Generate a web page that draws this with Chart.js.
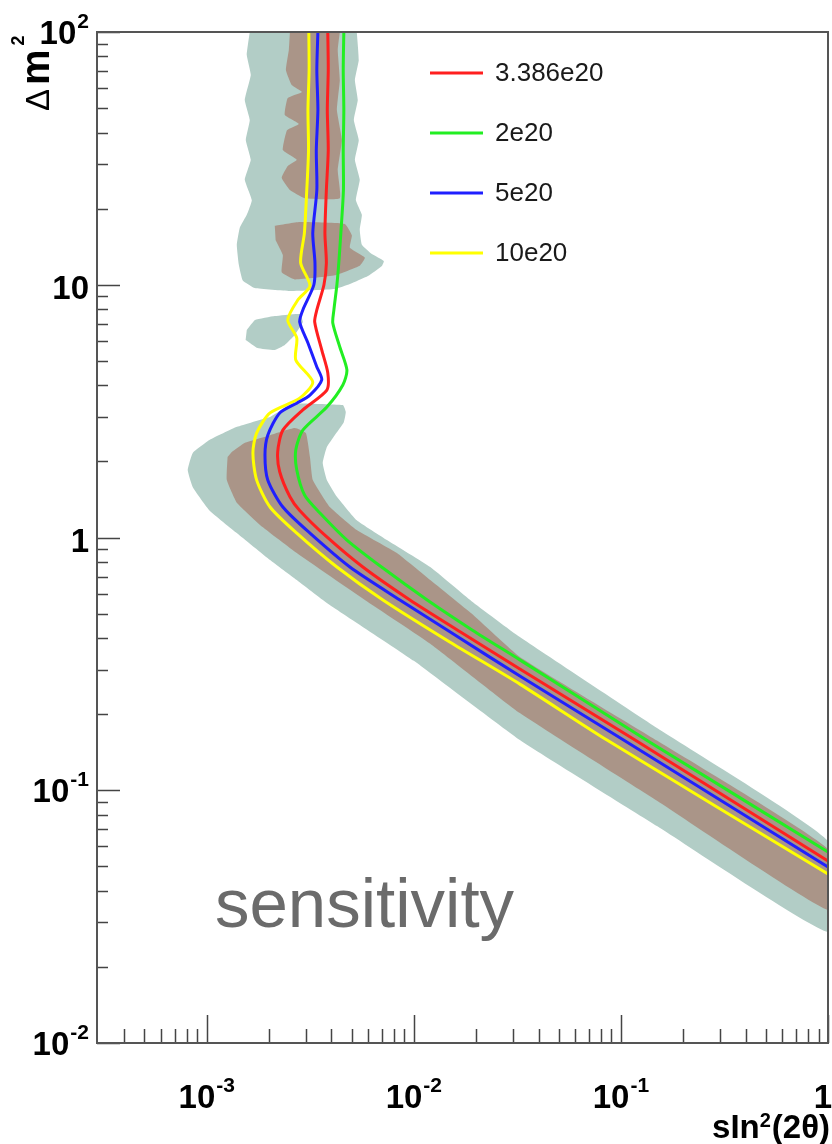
<!DOCTYPE html>
<html>
<head>
<meta charset="utf-8">
<title>sensitivity</title>
<script src="https://cdn.jsdelivr.net/npm/chart.js@4.4.1/dist/chart.umd.min.js"></script>
<style>
  html, body { margin: 0; padding: 0; background: #fff; }
  canvas { display: block; }
</style>
</head>
<body>
<canvas id="sensChart" width="832" height="1144"></canvas>
<script>
// x: sin^2(2θ), y: Δm^2 (eV^2)
const seriesNames = ["3.386e20", "2e20", "5e20", "10e20"];
const seriesColors = ["#ff1f1f", "#22ee22", "#1f1fff", "#ffff00"];

// 3.386e20 POT (red)
const line3386e20 = [
  [3.84e-3, 100], [3.86e-3, 70.7], [3.82e-3, 49.1], [3.86e-3, 34.1], [3.78e-3, 23.7],
  [3.72e-3, 16.0], [3.78e-3, 12.2], [3.68e-3, 10.0], [3.40e-3, 7.95], [3.32e-3, 7.12],
  [3.59e-3, 5.52], [3.84e-3, 4.48], [3.80e-3, 3.83], [2.91e-3, 3.20], [2.33e-3, 2.66],
  [2.20e-3, 2.18], [2.25e-3, 1.82], [2.52e-3, 1.45], [2.81e-3, 1.28], [3.80e-3, 1.005],
  [5.67e-3, 0.764], [9.57e-3, 0.566], [1.71e-2, 0.419], [3.25e-2, 0.302], [0.117, 0.158],
  [1.0, 0.0525]
];
// 2e20 POT (green)
const line2e20 = [
  [4.59e-3, 100], [4.56e-3, 70.7], [4.59e-3, 49.1], [4.56e-3, 34.1], [4.57e-3, 23.7],
  [4.44e-3, 16.0], [4.34e-3, 12.2], [4.25e-3, 10.0], [4.11e-3, 7.95], [4.06e-3, 7.06],
  [4.39e-3, 5.67], [4.75e-3, 4.60], [4.54e-3, 4.01], [3.80e-3, 3.28], [2.91e-3, 2.66],
  [2.69e-3, 2.22], [2.72e-3, 1.85], [2.97e-3, 1.47], [3.52e-3, 1.25], [4.75e-3, 0.977],
  [7.09e-3, 0.757], [1.16e-2, 0.566], [1.91e-2, 0.431], [3.25e-2, 0.328], [0.138, 0.155],
  [1.0, 0.0570]
];
// 5e20 POT (blue)
const line5e20 = [
  [3.44e-3, 100], [3.40e-3, 70.7], [3.44e-3, 49.1], [3.38e-3, 34.1], [3.40e-3, 23.7],
  [3.25e-3, 16.0], [3.33e-3, 12.2], [3.29e-3, 10.0], [2.91e-3, 7.95], [2.81e-3, 7.12],
  [3.08e-3, 5.88], [3.40e-3, 4.73], [3.59e-3, 4.20], [3.15e-3, 3.66], [2.72e-3, 3.40],
  [2.25e-3, 3.11], [1.97e-3, 2.54], [1.91e-3, 2.12], [1.97e-3, 1.69], [2.33e-3, 1.32],
  [3.15e-3, 1.04], [4.91e-3, 0.764], [8.56e-3, 0.566], [1.58e-2, 0.411], [3.25e-2, 0.283],
  [0.103, 0.158], [1.0, 0.0497]
];
// 10e20 POT (yellow)
const line10e20 = [
  [3.11e-3, 100], [3.12e-3, 70.7], [3.08e-3, 49.1], [3.10e-3, 34.1], [3.04e-3, 23.7],
  [2.96e-3, 16.0], [2.84e-3, 12.2], [3.15e-3, 9.89], [2.75e-3, 8.70], [2.46e-3, 7.25],
  [2.72e-3, 6.16], [2.69e-3, 5.04], [3.25e-3, 4.12], [2.81e-3, 3.56], [2.02e-3, 3.11],
  [1.74e-3, 2.59], [1.67e-3, 2.16], [1.74e-3, 1.69], [2.02e-3, 1.32], [2.72e-3, 1.04],
  [4.25e-3, 0.764], [7.09e-3, 0.566], [1.49e-2, 0.386], [3.25e-2, 0.263], [8.56e-2, 0.158],
  [1.0, 0.0466]
];

// outer (teal) band, closed outlines
const outerBandTop = [
  [1.613e-3, 100], [1.560e-3, 81.1], [1.631e-3, 67.6], [1.526e-3, 53.8], [1.613e-3, 44.9],
  [1.543e-3, 37.4], [1.631e-3, 31.2], [1.526e-3, 26.0], [1.650e-3, 21.6], [1.560e-3, 18.9],
  [1.443e-3, 16.8], [1.396e-3, 14.4], [1.428e-3, 12.0], [1.492e-3, 10.4], [1.705e-3, 9.71],
  [2.518e-3, 9.45], [4.15e-3, 9.62], [4.91e-3, 10.07], [6.0e-3, 10.83], [7.01e-3, 11.87],
  [7.16e-3, 12.42], [6.27e-3, 13.23], [5.61e-3, 14.4], [5.48e-3, 16.5], [5.61e-3, 18.9],
  [5.25e-3, 21.6], [5.48e-3, 26.0], [5.19e-3, 31.2], [5.42e-3, 37.4], [5.13e-3, 44.9],
  [5.36e-3, 53.8], [5.19e-3, 64.6], [5.42e-3, 77.5], [5.30e-3, 100]
];
const outerBandIsland = [
  [1.56e-3, 6.62], [1.71e-3, 7.25], [2.13e-3, 7.52], [2.81e-3, 7.66], [2.91e-3, 7.12],
  [2.66e-3, 6.33], [2.38e-3, 5.78], [2.13e-3, 5.52], [1.76e-3, 5.62], [1.54e-3, 6.05]
];
const outerBandLow = [
  [2.60e-3, 3.40], [4.54e-3, 3.34], [4.69e-3, 3.14], [4.59e-3, 2.86], [4.15e-3, 2.54],
  [3.80e-3, 2.28], [3.63e-3, 1.97], [3.80e-3, 1.69], [4.25e-3, 1.45], [5.30e-3, 1.17],
  [7.41e-3, 0.977], [1.20e-2, 0.764], [1.90e-2, 0.560], [3.25e-2, 0.404], [0.15, 0.176],
  [1.0, 0.0630], [1.0, 0.0275], [0.15, 0.0720], [3.25e-2, 0.158], [1.00e-2, 0.325],
  [3.80e-3, 0.551], [2.72e-3, 0.679], [2.02e-3, 0.815], [1.40e-3, 1.04], [1.03e-3, 1.28],
  [8.56e-4, 1.58], [8.09e-4, 1.85], [8.56e-4, 2.16], [1.03e-3, 2.43], [1.40e-3, 2.74],
  [2.02e-3, 3.00]
];

// inner (brown) band
const innerBandTop = [
  [2.52e-3, 100], [2.49e-3, 84.9], [2.41e-3, 70.7], [2.57e-3, 61.7], [2.88e-3, 57.9],
  [2.46e-3, 54.8], [2.38e-3, 46.9], [2.78e-3, 43.3], [2.44e-3, 40.9], [2.33e-3, 34.1],
  [2.72e-3, 31.2], [2.46e-3, 29.5], [2.30e-3, 26.5], [2.52e-3, 23.7], [2.97e-3, 22.0],
  [4.39e-3, 22.0], [4.29e-3, 28.4], [4.49e-3, 37.4], [4.25e-3, 49.1], [4.39e-3, 64.6],
  [4.29e-3, 84.9], [4.39e-3, 100]
];
const innerBandBlob = [
  [2.13e-3, 17.1], [2.81e-3, 17.7], [4.64e-3, 17.4], [5.02e-3, 15.7], [4.91e-3, 14.0],
  [5.80e-3, 12.8], [5.48e-3, 11.9], [4.15e-3, 10.9], [2.66e-3, 10.5], [2.30e-3, 11.2],
  [2.33e-3, 13.1], [2.15e-3, 15.0]
];
const innerBandLow = [
  [1.32e-3, 2.18], [1.53e-3, 2.37], [2.02e-3, 2.54], [2.66e-3, 2.71], [3.01e-3, 2.59],
  [3.15e-3, 2.08], [3.25e-3, 1.69], [3.93e-3, 1.32], [5.30e-3, 1.07], [8.28e-3, 0.868],
  [1.20e-2, 0.679], [1.90e-2, 0.500], [3.25e-2, 0.337], [0.15, 0.157], [1.0, 0.0586],
  [1.0, 0.0336], [0.15, 0.0907], [3.25e-2, 0.202], [1.20e-2, 0.380], [5.80e-3, 0.566],
  [2.72e-3, 0.868], [1.86e-3, 1.10], [1.40e-3, 1.37], [1.25e-3, 1.69], [1.26e-3, 2.08]
];

// axis ticks
const xMajorTicks = [1e-3, 1e-2, 1e-1, 1];
const xMinorTicks = [
  4e-4, 5e-4, 6e-4, 7e-4, 8e-4, 9e-4,
  2e-3, 3e-3, 4e-3, 5e-3, 6e-3, 7e-3, 8e-3, 9e-3,
  2e-2, 3e-2, 4e-2, 5e-2, 6e-2, 7e-2, 8e-2, 9e-2,
  0.2, 0.3, 0.4, 0.5, 0.6, 0.7, 0.8, 0.9
];
const xTickLabels = [["10", "-3"], ["10", "-2"], ["10", "-1"], ["1", ""]];
const yMajorTicks = [1e-2, 1e-1, 1, 10, 100];
const yMinorTicks = [
  2e-2, 3e-2, 4e-2, 5e-2, 6e-2, 7e-2, 8e-2, 9e-2,
  0.2, 0.3, 0.4, 0.5, 0.6, 0.7, 0.8, 0.9,
  2, 3, 4, 5, 6, 7, 8, 9,
  20, 30, 40, 50, 60, 70, 80, 90
];
const yTickLabels = [["10", "-2"], ["10", "-1"], ["1", ""], ["10", ""], ["10", "2"]];

const FONT = "'Liberation Sans', Arial, Helvetica, sans-serif";
const TEAL = "#b2cdc6";
const BROWN = "#aa9588";

function toXY(pts) {
    return pts.map(p => ({ x: p[0], y: p[1] }));
}

function band(pts, color, order) {
    return {
        label: "",
        data: toXY(pts),
        showLine: true,
        fill: "shape",
        backgroundColor: color,
        borderWidth: 0,
        pointRadius: 0,
        tension: 0.12,
        order: order
    };
}

function curve(pts, i) {
    return {
        label: seriesNames[i],
        data: toXY(pts),
        showLine: true,
        fill: false,
        borderColor: seriesColors[i],
        borderWidth: 3,
        pointRadius: 0,
        tension: 0.25,
        order: i
    };
}

const datasets = [
    curve(line3386e20, 0),
    curve(line2e20, 1),
    curve(line5e20, 2),
    curve(line10e20, 3),
    band(innerBandTop, BROWN, 10),
    band(innerBandBlob, BROWN, 10),
    band(innerBandLow, BROWN, 10),
    band(outerBandTop, TEAL, 20),
    band(outerBandIsland, TEAL, 20),
    band(outerBandLow, TEAL, 20)
];

// label like 10^-3 : base + raised exponent
function drawPow(ctx, base, exp, x, y, align) {
    ctx.font = "bold 33px " + FONT;
    const wb = ctx.measureText(base).width;
    ctx.font = "bold 21px " + FONT;
    const we = exp ? ctx.measureText(exp).width + 1 : 0;
    const total = wb + we;
    let start = align === "right" ? x - total : x - total / 2;
    ctx.textAlign = "left";
    ctx.textBaseline = "alphabetic";
    ctx.font = "bold 33px " + FONT;
    ctx.fillText(base, start, y);
    if (exp) {
        ctx.font = "bold 21px " + FONT;
        ctx.fillText(exp, start + wb + 1, y - 16);
    }
}

/* 프레임, 눈금, 글자 */
const rootFrame = {
    id: "rootFrame",
    afterDatasetsDraw(chart) {
        const ctx = chart.ctx;
        const a = chart.chartArea;
        const xs = chart.scales.x;
        const ys = chart.scales.y;
        ctx.save();

        // ticks inside the frame
        ctx.strokeStyle = "#444";
        ctx.lineWidth = 1.5;
        ctx.beginPath();
        xMajorTicks.forEach(v => {
            const p = Math.round(xs.getPixelForValue(v)) + 0.5;
            ctx.moveTo(p, a.bottom); ctx.lineTo(p, a.bottom - 28);
        });
        xMinorTicks.forEach(v => {
            const p = Math.round(xs.getPixelForValue(v)) + 0.5;
            ctx.moveTo(p, a.bottom); ctx.lineTo(p, a.bottom - 14);
        });
        yMajorTicks.forEach(v => {
            const p = Math.round(ys.getPixelForValue(v)) + 0.5;
            ctx.moveTo(a.left, p); ctx.lineTo(a.left + 23, p);
        });
        yMinorTicks.forEach(v => {
            const p = Math.round(ys.getPixelForValue(v)) + 0.5;
            ctx.moveTo(a.left, p); ctx.lineTo(a.left + 11, p);
        });
        ctx.stroke();

        // frame
        ctx.strokeStyle = "#555";
        ctx.lineWidth = 2;
        ctx.strokeRect(a.left, a.top, a.right - a.left, a.bottom - a.top);

        // tick labels
        ctx.fillStyle = "#000";
        xMajorTicks.forEach((v, i) => {
            const p = xs.getPixelForValue(v);
            drawPow(ctx, xTickLabels[i][0], xTickLabels[i][1], Math.min(p, 823), 1108, "center");
        });
        yMajorTicks.forEach((v, i) => {
            const p = ys.getPixelForValue(v);
            const lab = yTickLabels[i];
            drawPow(ctx, lab[0], lab[1], 89, p + (lab[1] ? 12 : 14), "right");
        });

        // x title
        ctx.textBaseline = "alphabetic";
        ctx.textAlign = "left";
        ctx.font = "bold 33px " + FONT;
        const t1 = "sIn", t2 = "(2\u03b8)";
        const w1 = ctx.measureText(t1).width;
        const w3 = ctx.measureText(t2).width;
        ctx.font = "bold 20px " + FONT;
        const w2 = ctx.measureText("2").width + 1;
        let sx = 830 - (w1 + w2 + w3);
        ctx.font = "bold 33px " + FONT;
        ctx.fillText(t1, sx, 1138);
        ctx.fillText(t2, sx + w1 + w2, 1138);
        ctx.font = "bold 20px " + FONT;
        ctx.fillText("2", sx + w1, 1127);

        // y title, rotated
        ctx.save();
        ctx.translate(49, 111);
        ctx.rotate(-Math.PI / 2);
        ctx.font = "33px " + FONT;
        ctx.fillText("\u0394", 0, 0);
        const wd = ctx.measureText("\u0394").width;
        ctx.font = "bold 40px " + FONT;
        ctx.fillText("m", wd + 4, 0);
        const wm = ctx.measureText("m").width;
        ctx.font = "bold 18px " + FONT;
        ctx.fillText("2", wd + 4 + wm + 4, -25);
        ctx.restore();

        // legend
        chart.data.datasets.slice(0, 4).forEach((ds, i) => {
            const ly = 73 + i * 60;
            ctx.strokeStyle = ds.borderColor;
            ctx.lineWidth = 3;
            ctx.beginPath();
            ctx.moveTo(430, ly); ctx.lineTo(483, ly);
            ctx.stroke();
            ctx.fillStyle = "#1a1a1a";
            ctx.font = "26px " + FONT;
            ctx.textBaseline = "middle";
            ctx.fillText(ds.label, 495, ly + 1);
        });

        // note
        ctx.fillStyle = "#6b6b6b";
        ctx.font = "69px " + FONT;
        ctx.textBaseline = "alphabetic";
        ctx.fillText("sensitivity", 215, 927);

        ctx.restore();
    }
};

new Chart(document.getElementById("sensChart"), {
    type: "scatter",
    data: { datasets: datasets },
    options: {
        responsive: false,
        animation: false,
        devicePixelRatio: 1,
        events: [],
        layout: { padding: { left: 97, right: 4, top: 32, bottom: 101 } },
        scales: {
            x: { type: "logarithmic", min: 2.95e-4, max: 1, display: false },
            y: { type: "logarithmic", min: 0.01, max: 100, display: false }
        },
        plugins: {
            legend: { display: false },
            tooltip: { enabled: false }
        }
    },
    plugins: [rootFrame]
});
</script>
</body>
</html>
